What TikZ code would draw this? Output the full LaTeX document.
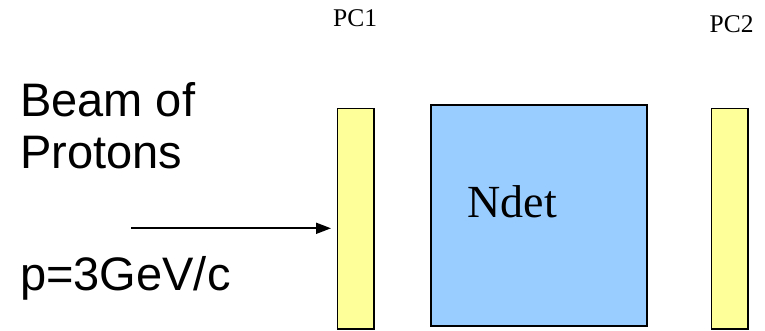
\documentclass[tikz,border=0pt]{standalone}
\usepackage{fontspec}
\setmainfont{Liberation Serif}
\newfontfamily\arialfont{Liberation Sans}
\usetikzlibrary{arrows.meta}
\definecolor{pcyellow}{HTML}{FFFF99}
\definecolor{detblue}{HTML}{99CCFF}
\begin{document}
\begin{tikzpicture}[x=1pt,y=-1pt,
  chamber/.style={draw=black,line width=1.6pt,fill=pcyellow},
  detector/.style={draw=black,line width=1.6pt,fill=detblue},
  bigsans/.style={inner sep=0pt,anchor=base west,font=\arialfont\fontsize{47}{56}\selectfont},
  bigserif/.style={inner sep=0pt,anchor=base west,font=\fontsize{46}{55}\selectfont},
  smallserif/.style={inner sep=0pt,anchor=base west,font=\fontsize{25.5}{30}\selectfont},
  beam/.style={line width=1.8pt,-{Triangle[length=15pt,width=11pt]}}]
\useasboundingbox (0,0) rectangle (765,331);
\draw[chamber] (337.5,108.5) rectangle (374,329);
\node[inner sep=0pt,minimum width=36.5pt,minimum height=220.5pt] (pc1) at (355.75,218.75) {};
\draw[detector] (431,105) rectangle (647,326);
\node[inner sep=0pt,minimum width=216pt,minimum height=221pt] (ndet) at (539,215.5) {};
\draw[chamber] (711.5,108.5) rectangle (748,329);
\node[inner sep=0pt,minimum width=36.5pt,minimum height=220.5pt] (pc2) at (729.75,218.75) {};
\node[bigserif] (ndetlabel) at (467.5,217.3) {Ndet};
\node[smallserif] (pc1label) at (333,26.7) {PC1};
\node[smallserif] (pc2label) at (709.5,32.3) {PC2};
\node[bigsans] (beamlabel) at (20,116.7) {Beam of};
\node[bigsans] (protlabel) at (20,168.3) {Protons};
\node[bigsans] (momlabel) at (20,290) {p=3GeV/c};
\coordinate (beamstart) at (131,228.3);
\coordinate (beamend) at (331,228.3);
\draw[beam] (beamstart) -- (beamend);
\end{tikzpicture}
\end{document}
